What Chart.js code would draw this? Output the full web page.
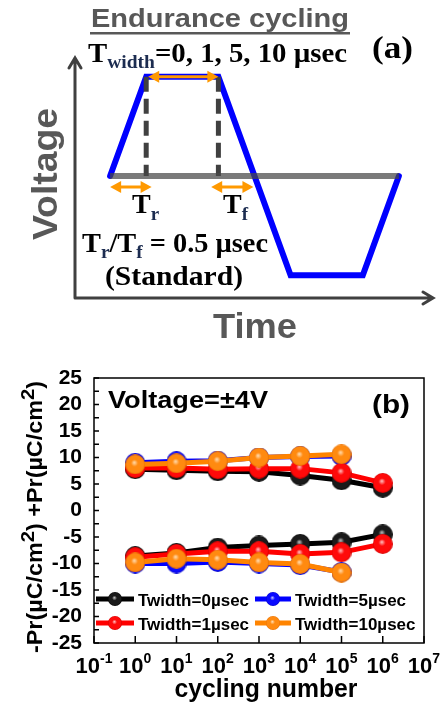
<!DOCTYPE html>
<html>
<head>
<meta charset="utf-8">
<script src="https://cdn.jsdelivr.net/npm/chart.js@4.4.0/dist/chart.umd.min.js"></script>
<style>
  body { margin: 0; background: #fff; }
  #wrap { position: relative; width: 441px; height: 709px; }
  canvas { position: absolute; left: 0; }
  #pulse { top: 0; }
  #endurance { top: 340px; }
</style>
</head>
<body>
<div id="wrap">
  <canvas id="pulse" width="441" height="340"></canvas>
  <canvas id="endurance" width="441" height="369"></canvas>
</div>
<script>
// ---- panel (a): pulse shape, arbitrary time / voltage units ----
const pulseTime = [1, 2, 4, 6, 8, 9];
const pulseVolt = [0, 1, 1, -1, -1, 0];
const baseTime = [1, 9];
const baseVolt = [0, 0];
const markTime = [2, 4];          // end of rise, start of fall (dashed)

// ---- panel (b): endurance data ----
const cycles = [1, 10, 100, 1000, 10000, 100000, 1000000];
const seriesNames = ['Twidth=0\u00b5sec', 'Twidth=1\u00b5sec', 'Twidth=5\u00b5sec', 'Twidth=10\u00b5sec'];
const posPr0 = [7.8, 7.6, 7.4, 7.3, 6.6, 5.7, 4.3];
const negPr0 = [-8.6, -8.0, -7.0, -6.6, -6.3, -6.0, -4.5];
const posPr1 = [8.0, 8.0, 7.8, 7.9, 7.9, 7.1, 5.2];
const negPr1 = [-8.8, -8.2, -7.7, -7.7, -8.2, -7.9, -6.3];
const posPr5 = [9.0, 9.3, 9.4, 10.0, 10.2, 10.3];
const negPr5 = [-10.0, -10.0, -9.7, -10.0, -10.3, -11.6];
const posPr10 = [8.7, 8.9, 9.3, 10.0, 10.3, 10.6];
const negPr10 = [-9.8, -9.1, -9.3, -9.8, -10.1, -11.7];
const yTickValues = [-25, -20, -15, -10, -5, 0, 5, 10, 15, 20, 25];
const xTickExp = [-1, 0, 1, 2, 3, 4, 5, 6, 7];

const SANS = '"Liberation Sans", Arial, sans-serif';
const SERIF = '"Liberation Serif", "Times New Roman", serif';
const SUBC = '#1c2c50';

function ball(hi, mid, edge, r) {
  const cv = document.createElement('canvas');
  cv.width = cv.height = 2 * r;
  const g = cv.getContext('2d');
  const grad = g.createRadialGradient(r * 0.9, r * 0.8, 0, r, r, r);
  grad.addColorStop(0, hi);
  grad.addColorStop(0.35, mid);
  grad.addColorStop(0.85, mid);
  grad.addColorStop(1, edge);
  g.fillStyle = grad;
  g.beginPath();
  g.arc(r, r, r, 0, Math.PI * 2);
  g.fill();
  return cv;
}

const palette = [
  { line: '#000000', hi: '#c8c8c8', mid: '#1a1a1a', edge: '#000000', order: 3 },
  { line: '#ff0000', hi: '#ffc8c8', mid: '#ff0a0a', edge: '#d00000', order: 1 },
  { line: '#0000ff', hi: '#c8c8ff', mid: '#0a0aff', edge: '#0000c0', order: 2 },
  { line: '#ff8400', hi: '#ffe0b8', mid: '#ff8a10', edge: '#e87000', order: 0 }
];
const posData = [posPr0, posPr1, posPr5, posPr10];
const negData = [negPr0, negPr1, negPr5, negPr10];

// ---------- text helpers ----------
// parts: [text, size, dy, family, color]; width (optional) stretches the run horizontally
function rich(ctx, x, y, parts, align, width) {
  ctx.textAlign = 'left';
  ctx.textBaseline = 'alphabetic';
  let w = 0;
  parts.forEach(p => { ctx.font = 'bold ' + p[1] + 'px ' + (p[3] || SERIF); w += ctx.measureText(p[0]).width; });
  const k = width ? width / w : 1;
  const total = w * k;
  const x0 = align === 'center' ? x - total / 2 : x;
  const base = ctx.fillStyle;
  ctx.save();
  ctx.translate(x0, y);
  ctx.scale(k, 1);
  let cx = 0;
  parts.forEach(p => {
    ctx.font = 'bold ' + p[1] + 'px ' + (p[3] || SERIF);
    ctx.fillStyle = p[4] || base;
    ctx.fillText(p[0], cx, p[2] || 0);
    cx += ctx.measureText(p[0]).width;
  });
  ctx.restore();
  return total;
}

function dblArrow(ctx, x1, x2, y) {
  const hl = 11, hw = 6;
  ctx.save();
  ctx.strokeStyle = ctx.fillStyle = '#ff9900';
  ctx.lineWidth = 3;
  ctx.beginPath(); ctx.moveTo(x1 + hl - 1, y); ctx.lineTo(x2 - hl + 1, y); ctx.stroke();
  ctx.beginPath(); ctx.moveTo(x1, y); ctx.lineTo(x1 + hl, y - hw); ctx.lineTo(x1 + hl, y + hw); ctx.closePath(); ctx.fill();
  ctx.beginPath(); ctx.moveTo(x2, y); ctx.lineTo(x2 - hl, y - hw); ctx.lineTo(x2 - hl, y + hw); ctx.closePath(); ctx.fill();
  ctx.restore();
}

// ---------- panel (a) ----------
const pulseDecor = {
  id: 'pulseDecor',
  afterDraw(chart) {
    const ctx = chart.ctx, a = chart.chartArea;
    const xs = chart.scales.x, ys = chart.scales.y;
    ctx.save();
    // axes with open arrow heads
    const ox = a.left + 1, oy = a.bottom;
    ctx.strokeStyle = '#404040';
    ctx.lineWidth = 3;
    ctx.lineCap = 'round';
    ctx.beginPath();
    ctx.moveTo(ox, oy); ctx.lineTo(ox, a.top);
    ctx.moveTo(ox - 6, a.top + 10); ctx.lineTo(ox, a.top); ctx.lineTo(ox + 6, a.top + 10);
    ctx.moveTo(ox, oy); ctx.lineTo(a.right - 2, oy);
    ctx.moveTo(a.right - 12, oy - 6); ctx.lineTo(a.right - 2, oy); ctx.lineTo(a.right - 12, oy + 6);
    ctx.stroke();

    // orange double arrows
    const yTop = ys.getPixelForValue(1);
    const yLow = ys.getPixelForValue(-0.11);
    dblArrow(ctx, xs.getPixelForValue(2) + 2, xs.getPixelForValue(4), yTop);
    dblArrow(ctx, xs.getPixelForValue(1), xs.getPixelForValue(2.15), yLow);
    dblArrow(ctx, xs.getPixelForValue(3.8), xs.getPixelForValue(4.97), yLow);

    // title, underlined
    ctx.fillStyle = '#585858';
    const tw = rich(ctx, 220, 27, [['Endurance cycling', 26, 0, SANS]], 'center', 258);
    ctx.fillRect(220 - tw / 2 - 1, 32, tw + 2, 2.5);

    // axis labels
    rich(ctx, 255, 338, [['Time', 35, 0, SANS]], 'center', 84);
    ctx.save();
    ctx.translate(57, 174);
    ctx.rotate(-Math.PI / 2);
    rich(ctx, 0, 0, [['Voltage', 35, 0, SANS]], 'center', 132);
    ctx.restore();

    // serif annotations
    ctx.fillStyle = '#000';
    rich(ctx, 88, 62, [['T', 28], ['width', 19, 6, SERIF, SUBC], ['=0, 1, 5, 10 \u00b5sec', 28]], 'left', 259);
    rich(ctx, 372, 58, [['(a)', 32]], 'left', 41);
    rich(ctx, 132, 213, [['T', 28], ['r', 19, 7, SERIF, SUBC]]);
    rich(ctx, 223, 213, [['T', 28], ['f', 19, 7, SERIF, SUBC]]);
    rich(ctx, 82, 252, [['T', 28], ['r', 19, 6, SERIF, SUBC], ['/T', 28], ['f', 19, 6, SERIF, SUBC], [' = 0.5 \u00b5sec', 28]], 'left', 186);
    rich(ctx, 105, 285, [['(Standard)', 28]], 'left', 138);
    ctx.restore();
  }
};

const pulseSets = [
  {
    data: pulseTime.map((t, i) => ({ x: t, y: pulseVolt[i] })),
    borderColor: '#0000ff', borderWidth: 6, borderCapStyle: 'round', borderJoinStyle: 'miter', order: 2
  },
  {
    data: baseTime.map((t, i) => ({ x: t, y: baseVolt[i] })),
    borderColor: 'rgba(70,70,70,0.72)', borderWidth: 6, order: 0
  }
].concat(markTime.map(t => ({
  data: [{ x: t, y: 1 }, { x: t, y: 0 }],
  borderColor: '#404040', borderWidth: 5, borderDash: [15, 7], order: 1
})));
pulseSets.forEach(d => { d.showLine = true; d.pointRadius = 0; d.tension = 0; });

new Chart(document.getElementById('pulse'), {
  type: 'scatter',
  data: { datasets: pulseSets },
  options: {
    responsive: false,
    animation: false,
    layout: { padding: { left: 74, right: 6, top: 58, bottom: 42 } },
    plugins: { legend: { display: false }, tooltip: { enabled: false } },
    scales: {
      x: { display: false, min: 0, max: 10 },
      y: { display: false, min: -1.23, max: 1.19 }
    }
  },
  plugins: [pulseDecor]
});

// ---------- panel (b) ----------
const bigBalls = palette.map(p => ball(p.hi, p.mid, p.edge, 10));
const smallBalls = palette.map(p => ball(p.hi, p.mid, p.edge, 7));

const enduranceSets = [];
palette.forEach((p, s) => {
  [posData[s], negData[s]].forEach(arr => {
    enduranceSets.push({
      label: seriesNames[s],
      data: arr.map((v, i) => ({ x: cycles[i], y: v })),
      borderColor: p.line,
      borderWidth: 5,
      tension: 0,
      pointStyle: bigBalls[s],
      pointRadius: 10,
      order: p.order
    });
  });
});

const enduranceDecor = {
  id: 'enduranceDecor',
  afterDraw(chart) {
    const ctx = chart.ctx, a = chart.chartArea;
    const xs = chart.scales.x, ys = chart.scales.y;
    ctx.save();
    ctx.strokeStyle = '#000';
    ctx.lineWidth = 1.5;
    ctx.strokeRect(a.left, a.top, a.right - a.left, a.bottom - a.top);

    // inward ticks
    ctx.beginPath();
    for (let v = -25; v <= 25; v += 2.5) {
      const y = ys.getPixelForValue(v);
      ctx.moveTo(a.left, y); ctx.lineTo(a.left + 5, y);
    }
    xTickExp.forEach(e => {
      const x = xs.getPixelForValue(Math.pow(10, e));
      ctx.moveTo(x, a.bottom); ctx.lineTo(x, a.bottom - 7);
    });
    ctx.stroke();

    // x tick labels 10^n
    ctx.fillStyle = '#000';
    xTickExp.forEach(e => {
      const x = xs.getPixelForValue(Math.pow(10, e));
      rich(ctx, x, 333, [['10', 22, 0, SANS], [String(e), 14, -10, SANS]], 'center');
    });

    rich(ctx, 266, 357, [['cycling number', 25, 0, SANS]], 'center', 183);

    // y title with raised 2s
    ctx.save();
    ctx.translate(42, 177);
    ctx.rotate(-Math.PI / 2);
    rich(ctx, 0, 0, [
      ['-Pr(\u00b5C/cm', 22, 0, SANS], ['2', 19, -8, SANS],
      [') +Pr(\u00b5C/cm', 22, 0, SANS], ['2', 19, -8, SANS], [')', 22, 0, SANS]
    ], 'center', 272);
    ctx.restore();

    // in-plot labels
    rich(ctx, 108, 68, [['Voltage=\u00b14V', 24, 0, SANS]], 'left', 160);
    rich(ctx, 372, 73, [['(b)', 25, 0, SANS]], 'left', 38);

    // legend, two columns
    const cols = [{ l0: 96, l1: 134, tx: 138 }, { l0: 255, l1: 291, tx: 295 }];
    const rows = [259, 283];
    const slots = [[0, 0, 0], [2, 1, 0], [1, 0, 1], [3, 1, 1]];
    slots.forEach(([s, c, r]) => {
      const col = cols[c], y = rows[r];
      ctx.strokeStyle = palette[s].line;
      ctx.lineWidth = 5;
      ctx.beginPath(); ctx.moveTo(col.l0, y); ctx.lineTo(col.l1, y); ctx.stroke();
      const b = smallBalls[s];
      ctx.drawImage(b, (col.l0 + col.l1) / 2 - b.width / 2, y - b.height / 2);
      ctx.fillStyle = '#000';
      rich(ctx, col.tx, y + 7, [[seriesNames[s], 17, 0, SANS]]);
    });
    ctx.restore();
  }
};

new Chart(document.getElementById('endurance'), {
  type: 'line',
  data: { datasets: enduranceSets },
  options: {
    responsive: false,
    animation: false,
    layout: { padding: { left: 0, right: 17, top: 38, bottom: 0 } },
    plugins: { legend: { display: false }, tooltip: { enabled: false } },
    scales: {
      x: {
        type: 'logarithmic', min: 0.1, max: 1e7,
        grid: { display: false, drawTicks: false },
        border: { display: false },
        ticks: { display: false },
        afterFit: s => { s.height = 66; }
      },
      y: {
        min: -25, max: 25,
        afterBuildTicks: s => { s.ticks = yTickValues.map(v => ({ value: v })); },
        grid: { display: false, drawTicks: false },
        border: { display: false },
        ticks: { color: '#000', padding: 12, autoSkip: false, font: { family: SANS, size: 21, weight: 'bold' } },
        afterFit: s => { s.width = 94; }
      }
    }
  },
  plugins: [enduranceDecor]
});
</script>
</body>
</html>
